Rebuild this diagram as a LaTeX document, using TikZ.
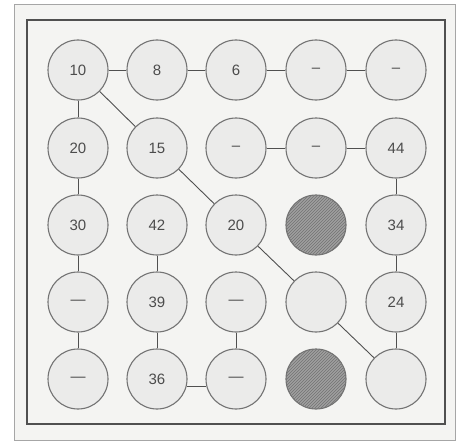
\documentclass[tikz,border=0pt]{standalone}
\usepackage{fontspec}
\setmainfont{Liberation Sans}
\usetikzlibrary{patterns}
\definecolor{paper}{HTML}{F4F4F2}
\definecolor{disc}{HTML}{EBEBEA}
\definecolor{ink}{HTML}{505050}
\begin{document}
\begin{tikzpicture}[x=1pt, y=-1pt,
        cell/.style={circle, draw=ink!80, line width=1.1pt, fill=disc,
          minimum size=60pt, inner sep=0pt, text=black!70,
          font=\fontsize{15}{15}\selectfont},
        hatch/.style={cell, fill=gray!75,
          postaction={pattern=north east lines, pattern color=black!55}},
        link/.style={draw=ink, line width=0.9pt}
      ]
      \useasboundingbox (0,0) rectangle (458,444);
      \fill[white] (0,0) rectangle (458,444);
      \draw[gray!70, line width=1pt, fill=paper] (14,5) rectangle (455,440);
      \draw[ink, line width=2.4pt, fill=paper] (27,20) rectangle (445,424);
      % row 1
      \node[cell] (n11) at (78, 70)  {10};
      \node[cell] (n12) at (157,70)  {8};
      \node[cell] (n13) at (236,70)  {6};
      \node[cell] (n14) at (316,70)  {--};
      \node[cell] (n15) at (396,70)  {--};
      % row 2
      \node[cell] (n21) at (78, 148) {20};
      \node[cell] (n22) at (157,148) {15};
      \node[cell] (n23) at (236,148) {--};
      \node[cell] (n24) at (316,148) {--};
      \node[cell] (n25) at (396,148) {44};
      % row 3
      \node[cell]  (n31) at (78, 225) {30};
      \node[cell]  (n32) at (157,225) {42};
      \node[cell]  (n33) at (236,225) {20};
      \node[hatch] (n34) at (316,225) {};
      \node[cell]  (n35) at (396,225) {34};
      % row 4
      \node[cell] (n41) at (78, 302) {---};
      \node[cell] (n42) at (157,302) {39};
      \node[cell] (n43) at (236,302) {---};
      \node[cell] (n44) at (316,302) {};
      \node[cell] (n45) at (396,302) {24};
      % row 5
      \node[cell]  (n51) at (78, 379) {---};
      \node[cell]  (n52) at (157,379) {36};
      \node[cell]  (n53) at (236,379) {---};
      \node[hatch] (n54) at (316,379) {};
      \node[cell]  (n55) at (396,379) {};
      % links
      \draw[link] (n11) -- (n12);
      \draw[link] (n12) -- (n13);
      \draw[link] (n13) -- (n14);
      \draw[link] (n14) -- (n15);
      \draw[link] (n11) -- (n21);
      \draw[link] (n11) -- (n22);
      \draw[link] (n22) -- (n33);
      \draw[link] (n23) -- (n24);
      \draw[link] (n24) -- (n25);
      \draw[link] (n25) -- (n35);
      \draw[link] (n21) -- (n31);
      \draw[link] (n31) -- (n41);
      \draw[link] (n41) -- (n51);
      \draw[link] (n32) -- (n42);
      \draw[link] (n42) -- (n52);
      \draw[link] (n52.-15) -- (n53.195);
      \draw[link] (n43) -- (n53);
      \draw[link] (n33) -- (n44);
      \draw[link] (n44) -- (n55);
      \draw[link] (n35) -- (n45);
      \draw[link] (n45) -- (n55);
    \end{tikzpicture}
\end{document}
